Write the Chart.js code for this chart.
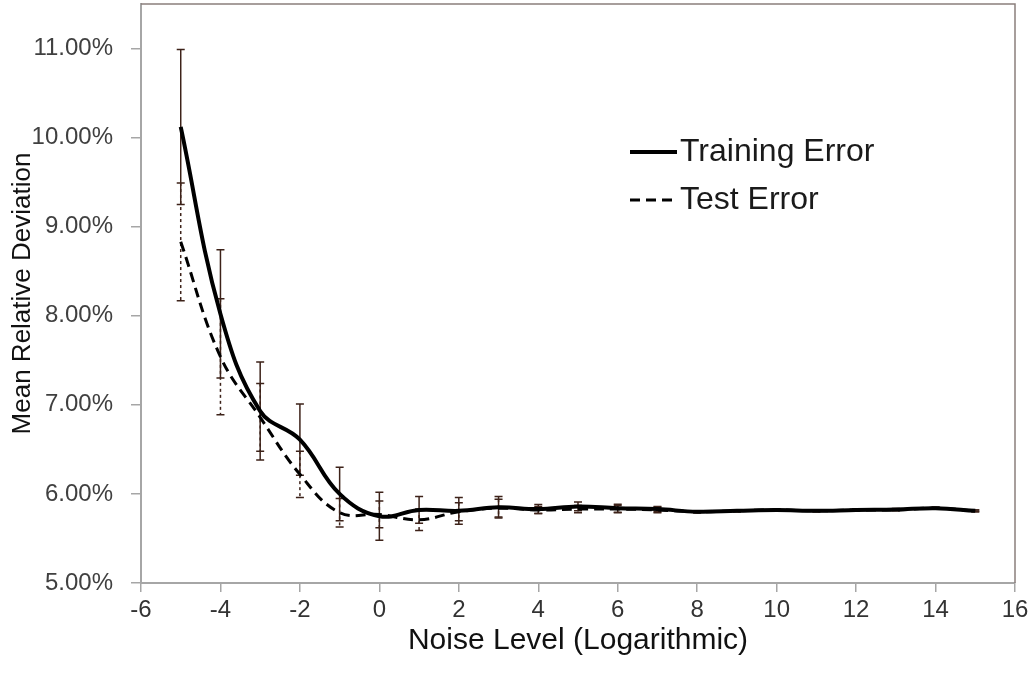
<!DOCTYPE html>
<html>
<head>
<meta charset="utf-8">
<script src="https://cdn.jsdelivr.net/npm/chart.js@4/dist/chart.umd.min.js"></script>
<style>
    body { margin: 0; background: #ffffff; }
    canvas { display: block; }
</style>
</head>
<body>
<canvas id="graficoError" width="1031" height="675"></canvas>
<script>
// Niveles de ruido (eje X, logarítmico)
const nivelesRuido = [-5, -4, -3, -2, -1, 0, 1, 2, 3, 4, 5, 6, 7, 8, 9, 10, 11, 12, 13, 14, 15];

// Desviación relativa media (%) y su barra de error
const errorEntrenamiento = [10.12, 8.02, 6.93, 6.61, 6.00, 5.75, 5.82, 5.81, 5.85, 5.83, 5.86, 5.84, 5.83, 5.80, 5.81, 5.82, 5.81, 5.82, 5.825, 5.84, 5.81];
const barraEntrenamiento = [0.87, 0.72, 0.55, 0.40, 0.30, 0.27, 0.15, 0.15, 0.12, 0.05, 0.05, 0.045, 0.03, 0.01, 0.01, 0.01, 0.01, 0.01, 0.01, 0.01, 0.01];

const errorPrueba = [8.83, 7.54, 6.86, 6.22, 5.79, 5.77, 5.71, 5.80, 5.84, 5.82, 5.83, 5.83, 5.82, 5.80, 5.81, 5.82, 5.81, 5.82, 5.82, 5.84, 5.81];
const barraPrueba = [0.66, 0.65, 0.38, 0.26, 0.16, 0.15, 0.12, 0.10, 0.10, 0.04, 0.04, 0.04, 0.03, 0.01, 0.01, 0.01, 0.01, 0.01, 0.01, 0.01, 0.01];

// Marcas de los ejes
const marcasY = [5, 6, 7, 8, 9, 10, 11];
const marcasX = [-6, -4, -2, 0, 2, 4, 6, 8, 10, 12, 14, 16];

const fuente = "'Liberation Sans', Arial, sans-serif";
const colorBarra = '#3d2219';

// Barras de error dibujadas con las escalas del gráfico
const pluginBarrasError = {
    id: 'barrasError',
    beforeDatasetsDraw(chart) {
        const ctx = chart.ctx;
        const x = chart.scales.x;
        const y = chart.scales.y;
        chart.data.datasets.forEach(ds => {
            ctx.save();
            ctx.strokeStyle = colorBarra;
            ctx.lineWidth = 1.5;
            ctx.setLineDash(ds.barDash);
            ds.data.forEach((p, i) => {
                const e = ds.barras[i];
                const px = x.getPixelForValue(p.x);
                const arriba = y.getPixelForValue(p.y + e);
                const abajo = y.getPixelForValue(p.y - e);
                ctx.beginPath();
                ctx.moveTo(px, arriba);
                ctx.lineTo(px, abajo);
                ctx.stroke();
                ctx.setLineDash([]);
                ctx.beginPath();
                ctx.moveTo(px - 4, arriba);
                ctx.lineTo(px + 4, arriba);
                ctx.moveTo(px - 4, abajo);
                ctx.lineTo(px + 4, abajo);
                ctx.stroke();
                ctx.setLineDash(ds.barDash);
            });
            ctx.restore();
        });
    }
};

// Marco superior/derecho y leyenda dentro del área
const pluginMarcoLeyenda = {
    id: 'marcoLeyenda',
    afterDraw(chart) {
        const ctx = chart.ctx;
        const a = chart.chartArea;
        ctx.save();
        ctx.strokeStyle = '#8a7f7c';
        ctx.lineWidth = 1.5;
        ctx.beginPath();
        ctx.moveTo(a.left, a.top);
        ctx.lineTo(a.right, a.top);
        ctx.lineTo(a.right, a.bottom);
        ctx.stroke();

        const x0 = 630, x1 = 677;
        chart.data.datasets.forEach((ds, i) => {
            const yy = 152 + i * 48;
            ctx.strokeStyle = ds.borderColor;
            ctx.lineWidth = ds.borderWidth;
            ctx.setLineDash(ds.borderDash || []);
            ctx.beginPath();
            ctx.moveTo(x0, yy);
            ctx.lineTo(x1, yy);
            ctx.stroke();
            ctx.setLineDash([]);
            ctx.fillStyle = '#1a1a1a';
            ctx.font = '32px ' + fuente;
            ctx.textBaseline = 'middle';
            ctx.fillText(ds.label, x1 + 3, yy);
        });
        ctx.restore();
    }
};

const ctx = document.getElementById('graficoError').getContext('2d');
new Chart(ctx, {
    type: 'line',
    data: {
        datasets: [{
            label: 'Training Error',
            data: nivelesRuido.map((n, i) => ({ x: n, y: errorEntrenamiento[i] })),
            barras: barraEntrenamiento,
            barDash: [],
            borderColor: '#000000',
            borderWidth: 4,
            tension: 0.4,
            pointRadius: 0,
            fill: false
        }, {
            label: 'Test Error',
            data: nivelesRuido.map((n, i) => ({ x: n, y: errorPrueba[i] })),
            barras: barraPrueba,
            barDash: [3, 3],
            borderColor: '#000000',
            borderWidth: 3,
            borderDash: [10, 6],
            tension: 0.4,
            pointRadius: 0,
            fill: false
        }]
    },
    options: {
        responsive: false,
        animation: false,
        maintainAspectRatio: false,
        layout: { padding: { top: 4, right: 16, left: 0, bottom: 0 } },
        plugins: {
            legend: { display: false },
            tooltip: { enabled: false }
        },
        scales: {
            x: {
                type: 'linear',
                min: -6,
                max: 16,
                afterBuildTicks: s => { s.ticks = marcasX.map(v => ({ value: v })); },
                afterFit: s => { s.height = 92; s.paddingLeft = 0; s.paddingRight = 0; },
                grid: { drawOnChartArea: false, tickLength: 9, color: '#a6a6a6', lineWidth: 1.5 },
                border: { color: '#a6a6a6', width: 2 },
                ticks: {
                    padding: 4,
                    color: '#333333',
                    font: { family: fuente, size: 24 },
                    maxRotation: 0
                },
                title: {
                    display: true,
                    text: 'Noise Level (Logarithmic)',
                    color: '#111111',
                    font: { family: fuente, size: 30 },
                    padding: { top: 0, bottom: 16 }
                }
            },
            y: {
                min: 5,
                max: 11.5,
                afterBuildTicks: s => { s.ticks = marcasY.map(v => ({ value: v })); },
                afterFit: s => { s.width = 141; s.paddingTop = 0; s.paddingBottom = 0; },
                grid: { drawOnChartArea: false, tickLength: 10, color: '#a6a6a6', lineWidth: 1.5 },
                border: { color: '#a6a6a6', width: 2 },
                ticks: {
                    padding: 18,
                    color: '#404040',
                    font: { family: fuente, size: 24 },
                    callback: v => v.toFixed(2) + '%'
                },
                title: {
                    display: true,
                    text: 'Mean Relative Deviation',
                    color: '#111111',
                    font: { family: fuente, size: 26 },
                    padding: { top: 7, bottom: 0 }
                }
            }
        }
    },
    plugins: [pluginBarrasError, pluginMarcoLeyenda]
});
</script>
</body>
</html>
